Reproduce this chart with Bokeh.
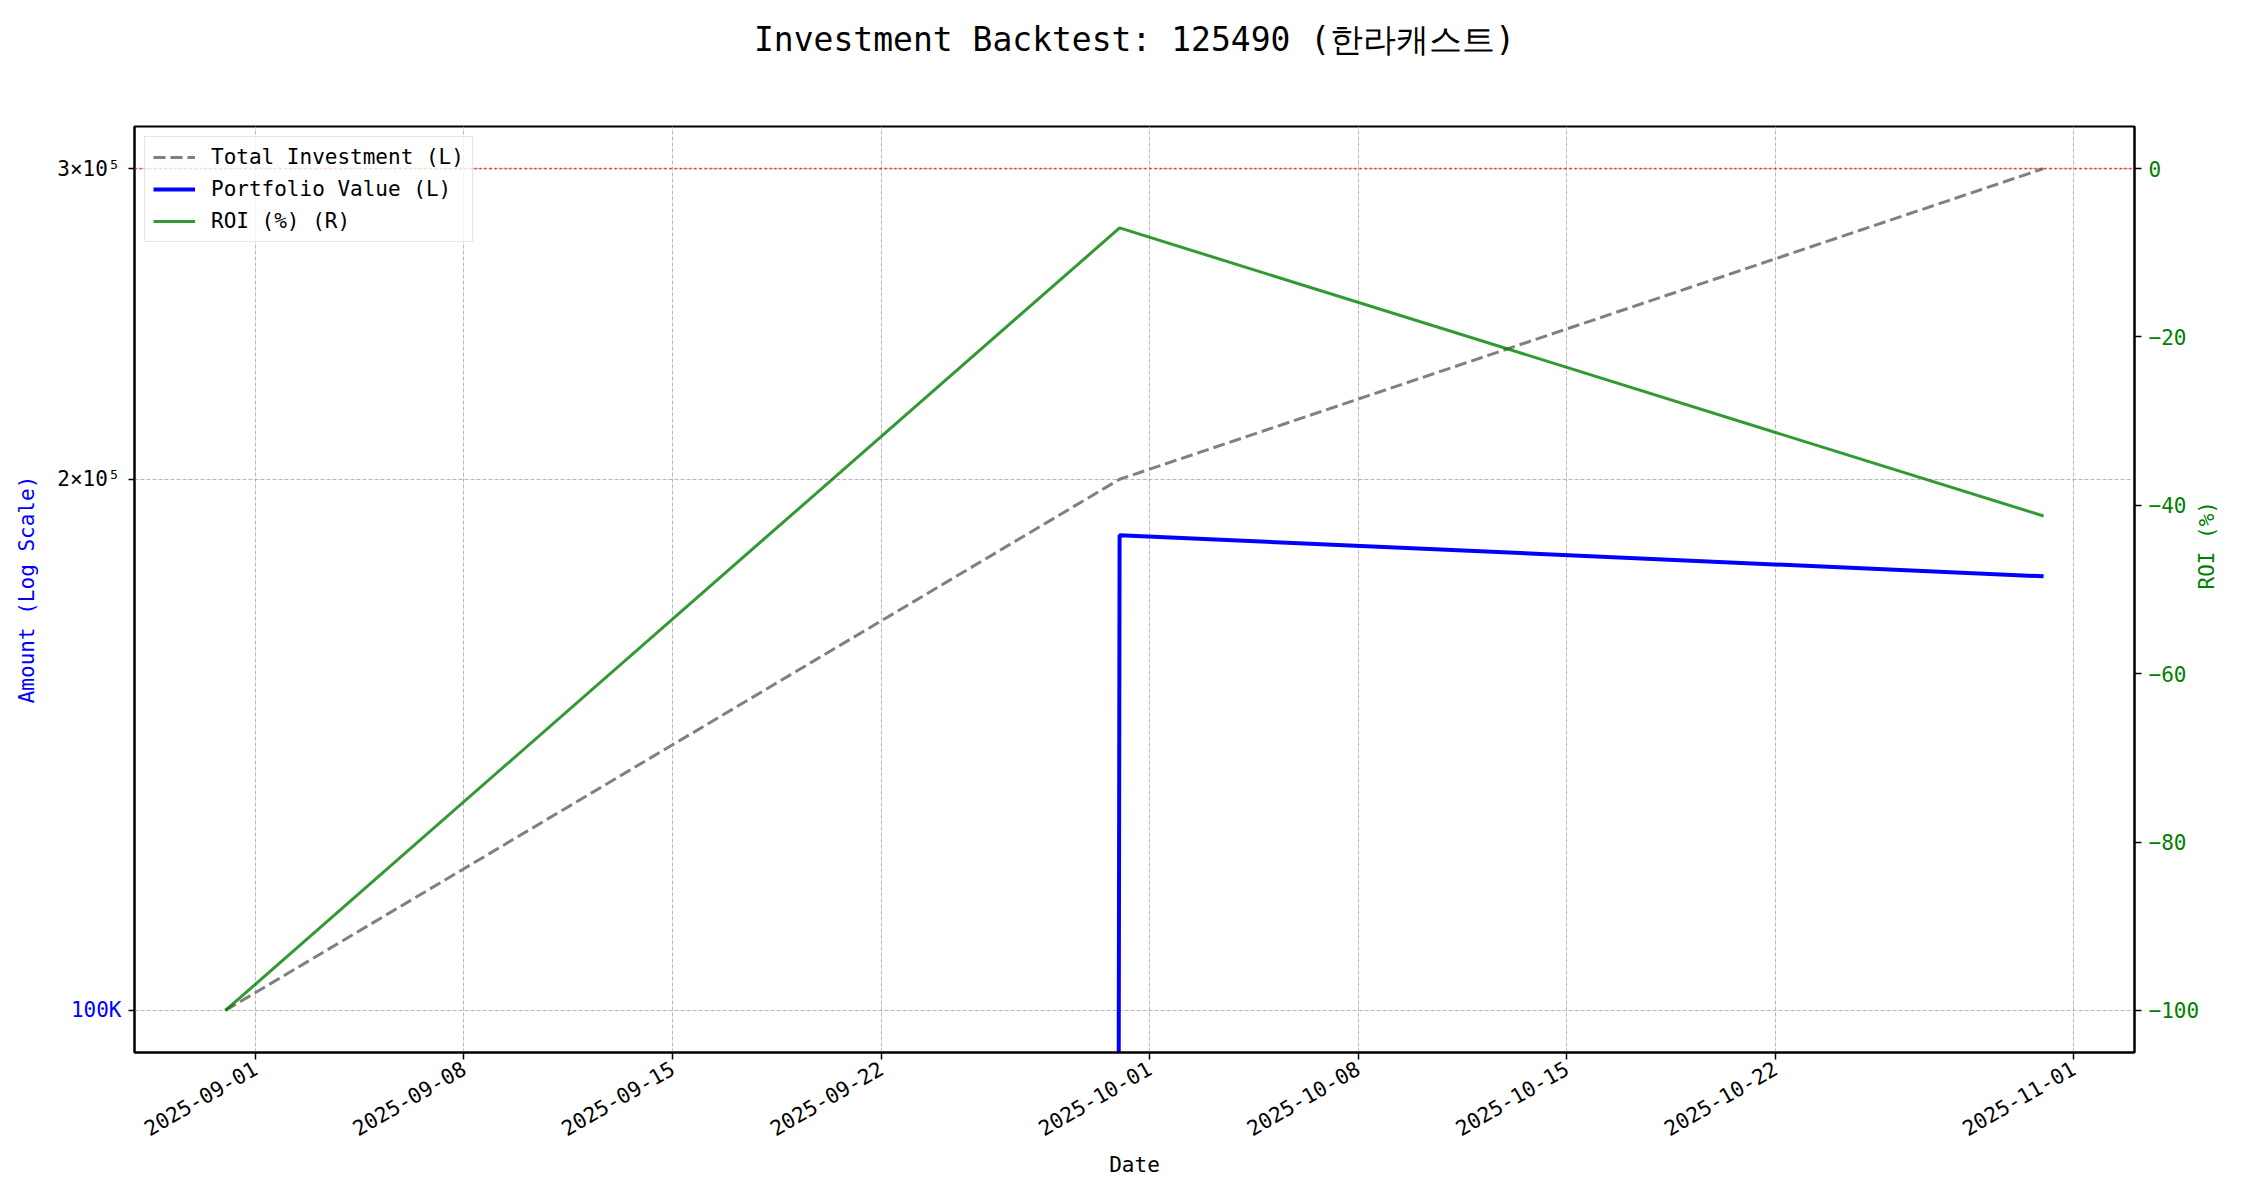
import math
import numpy as np
import pandas as pd
from bokeh.plotting import figure
from bokeh.models import (Range1d, LinearAxis, LogAxis, LinearScale, FixedTicker, DatetimeTickFormatter,
                          Span, Legend, LegendItem, ColumnDataSource, Title)
from bokeh.embed import file_html
from bokeh.resources import INLINE

# ---- data ----
dates = ["2025-08-31", "2025-09-30", "2025-10-31"]
total_investment = [100000, 200000, 300000]
portfolio_value = [0, 185900, 176200]
roi_pct = [-100.0, -7.05, -41.27]

x_tick_dates = ["2025-09-01", "2025-09-08", "2025-09-15", "2025-09-22", "2025-10-01",
                "2025-10-08", "2025-10-15", "2025-10-22", "2025-11-01"]
left_ticks = [100000, 200000, 300000]
left_tick_labels = ["100K", "2×10⁵", "3×10⁵"]
roi_ticks = [0, -20, -40, -60, -80, -100]

title_text = "Investment Backtest: 125490 (한라캐스트)"
FONT = "DejaVu Sans Mono"
FS = "21px"

# ---- helpers ----
epoch = pd.Timestamp("1970-01-01")
x_ms = [(pd.Timestamp(d) - epoch) / pd.Timedelta(milliseconds=1) for d in dates]
tick_ms = [(pd.Timestamp(d) - epoch) / pd.Timedelta(milliseconds=1) for d in x_tick_dates]

span_x = x_ms[-1] - x_ms[0]
x_start = x_ms[0] - 0.05 * span_x
x_end = x_ms[-1] + 0.05 * span_x

lo = math.log10(min(total_investment))
hi = math.log10(max(total_investment))
y_start = 10 ** (lo - 0.05 * (hi - lo))
y_end = 10 ** (hi + 0.05 * (hi - lo))

r_lo, r_hi = min(roi_pct + [0]), max(roi_pct + [0])
r_pad = 0.05 * (r_hi - r_lo)

# matplotlib-style clipping of non-positive values on a log axis
pv_plot = [v if v > 0 else 1e-300 for v in portfolio_value]

src = ColumnDataSource(dict(x=x_ms, inv=total_investment, pv=pv_plot, roi=roi_pct))

W, H = 2234, 1184
p = figure(width=W, height=H, x_axis_type="datetime", y_axis_type="log",
           x_range=Range1d(x_start, x_end), y_range=Range1d(y_start, y_end),
           output_backend="svg", toolbar_location=None,
           min_border_left=134, min_border_right=100, min_border_top=126, min_border_bottom=132)
p.extra_y_ranges = {"roi": Range1d(r_lo - r_pad, r_hi + r_pad)}
p.extra_y_scales = {"roi": LinearScale()}

p.background_fill_color = "white"
p.border_fill_color = "white"
p.outline_line_color = "black"
p.outline_line_width = 2

# title: empty built-in title, a spacer next to the frame, then the real title above it
p.title.text = ""
p.title.standoff = 0
p.add_layout(Title(text=" ", text_font_size="2px", standoff=60), "above")
p.add_layout(Title(text=title_text, align="center", text_font=FONT, text_font_size="33px",
                   text_font_style="normal", text_color="black", standoff=8), "above")

# lines
r_inv = p.line("x", "inv", source=src, line_color="gray", line_dash="12 5", line_width=3)
r_pv = p.line("x", "pv", source=src, line_color="blue", line_width=4)
r_roi = p.line("x", "roi", source=src, line_color="green", line_alpha=0.8, line_width=3, y_range_name="roi")

p.add_layout(Span(location=0, dimension="width", y_range_name="roi", line_color="red",
                  line_dash="2 3", line_width=1.8, line_alpha=0.8))

# x axis
xt = FixedTicker(ticks=tick_ms)
xax = p.xaxis[0]
xax.ticker = xt
fmt = "%Y-%m-%d"
xax.formatter = DatetimeTickFormatter(milliseconds=fmt, seconds=fmt, minsec=fmt, minutes=fmt,
                                      hourmin=fmt, hours=fmt, days=fmt, months=fmt, years=fmt)
xax.major_label_orientation = math.pi / 6
xax.axis_label = "Date"
xax.axis_label_text_color = "black"
xax.major_label_text_color = "black"
xax.major_tick_out = 7
xax.major_tick_in = 0
xax.minor_tick_out = 0
xax.minor_tick_in = 0
xax.major_label_standoff = 7
xax.axis_label_standoff = 6

# inner left axis: ticks at all values, blue label only at the major tick (100K)
yt = FixedTicker(ticks=left_ticks)
yax = p.yaxis[0]
yax.ticker = yt
yax.major_label_overrides = {t: (l if t == left_ticks[0] else "") for t, l in zip(left_ticks, left_tick_labels)}
yax.major_label_text_color = "blue"
yax.major_tick_out = 6
yax.major_tick_in = 0
yax.minor_tick_out = 0
yax.minor_tick_in = 0
yax.major_label_standoff = 7

# outer left axis: black labels for 2x10^5 and 3x10^5, pulled in next to the frame
yax_o = LogAxis(ticker=FixedTicker(ticks=left_ticks[1:]),
                major_label_overrides={t: l for t, l in zip(left_ticks[1:], left_tick_labels[1:])},
                axis_label="Amount (Log Scale)")
yax_o.axis_line_color = None
yax_o.major_tick_line_color = None
yax_o.major_tick_out = 0
yax_o.major_tick_in = 0
yax_o.minor_tick_out = 0
yax_o.minor_tick_in = 0
yax_o.major_label_standoff = -53
yax_o.major_label_text_color = "black"
yax_o.axis_label_text_color = "blue"
yax_o.axis_label_standoff = 15
p.add_layout(yax_o, "left")

# right axis
ra = LinearAxis(y_range_name="roi", axis_label="ROI (%)", ticker=FixedTicker(ticks=roi_ticks))
ra.major_label_text_color = "green"
ra.axis_label_text_color = "green"
ra.axis_label_orientation = math.pi / 2
ra.major_tick_out = 7
ra.major_tick_in = 0
ra.minor_tick_out = 0
ra.minor_tick_in = 0
ra.major_label_standoff = 7
ra.axis_label_standoff = 5
p.add_layout(ra, "right")

for ax in [xax, yax, yax_o, ra]:
    ax.major_label_text_font = FONT
    ax.major_label_text_font_size = FS
    ax.axis_label_text_font = FONT
    ax.axis_label_text_font_size = FS
    ax.axis_label_text_font_style = "normal"
for ax in [xax, yax, ra]:
    ax.major_tick_line_color = "black"
    ax.major_tick_line_width = 1.5
    ax.axis_line_color = "black"
    ax.axis_line_width = 2

# grids
p.xgrid.ticker = xt
p.ygrid.ticker = yt
for g in [p.xgrid[0], p.ygrid[0]]:
    g.grid_line_color = "#b0b0b0"
    g.grid_line_dash = "4 2"
    g.grid_line_width = 1
    g.grid_line_alpha = 0.9

# legend
legend = Legend(items=[LegendItem(label="Total Investment (L)", renderers=[r_inv]),
                       LegendItem(label="Portfolio Value (L)", renderers=[r_pv]),
                       LegendItem(label="ROI (%) (R)", renderers=[r_roi])],
                location="top_left")
legend.margin = 10
legend.padding = 8
legend.spacing = 8
legend.label_height = 24
legend.glyph_height = 24
legend.glyph_width = 42
legend.label_standoff = 16
legend.label_text_font = FONT
legend.label_text_font_size = FS
legend.label_text_color = "black"
legend.border_line_color = "#cccccc"
legend.border_line_width = 1.5
legend.background_fill_color = "white"
legend.background_fill_alpha = 0.8
p.add_layout(legend)

open("out.html", "w").write(file_html(p, INLINE))
